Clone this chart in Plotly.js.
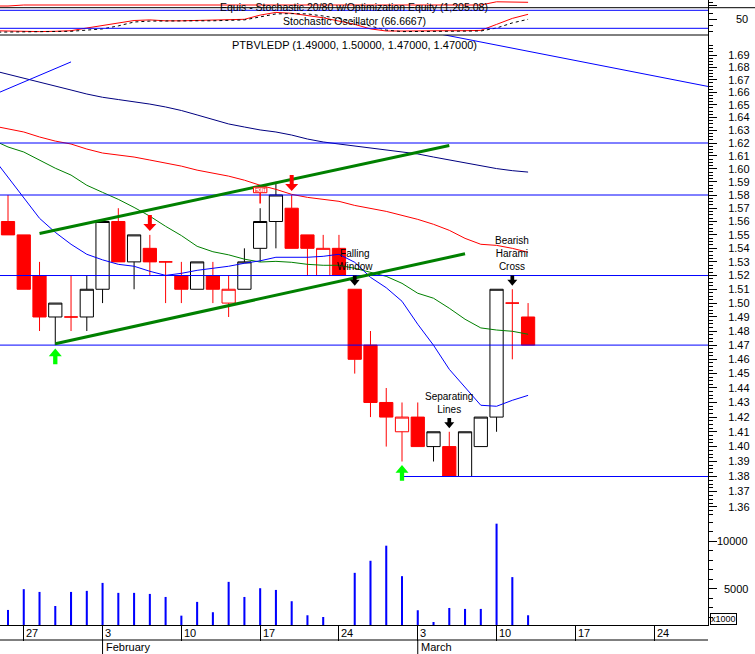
<!DOCTYPE html>
<html>
<head>
<meta charset="utf-8">
<script src="https://cdn.plot.ly/plotly-3.0.1.min.js"></script>
<style>
html,body{margin:0;padding:0;background:#ffffff;}
#chart{width:755px;height:654px;}
</style>
</head>
<body>
<div id="chart"></div>
<script>
// ---------------- data ----------------
const symbol = 'PTBVLEDP';
const dates = ['2003-01-23','2003-01-24','2003-01-27','2003-01-28','2003-01-29','2003-01-30','2003-01-31',
 '2003-02-03','2003-02-04','2003-02-05','2003-02-06','2003-02-07','2003-02-10','2003-02-11','2003-02-12','2003-02-13','2003-02-14',
 '2003-02-17','2003-02-18','2003-02-19','2003-02-20','2003-02-21','2003-02-24','2003-02-25','2003-02-26','2003-02-27','2003-02-28',
 '2003-03-03','2003-03-04','2003-03-05','2003-03-06','2003-03-07','2003-03-10','2003-03-11','2003-03-12'];
const openP  = [null,1.56,1.55,1.52,1.49,1.49,1.49,1.51,1.56,1.53,1.54,1.53,1.52,1.51,1.52,1.50,1.51,1.54,1.56,1.57,1.55,1.52,1.54,1.51,1.47,1.43,1.41,1.42,1.40,1.40,1.38,1.40,1.42,1.50,1.49];
const highP  = [null,1.58,1.55,1.53,1.50,1.52,1.52,1.56,1.57,1.55,1.55,1.53,1.53,1.53,1.53,1.52,1.54,1.57,1.59,1.58,1.55,1.55,1.55,1.51,1.48,1.44,1.43,1.43,1.41,1.41,1.41,1.42,1.51,1.51,1.50];
const lowP   = [null,1.55,1.51,1.48,1.47,1.48,1.48,1.50,1.53,1.51,1.52,1.50,1.50,1.51,1.50,1.49,1.51,1.53,1.54,1.54,1.52,1.52,1.52,1.45,1.42,1.40,1.39,1.40,1.39,1.38,1.38,1.40,1.41,1.46,1.47];
const closeP = [null,1.55,1.51,1.49,1.50,1.49,1.51,1.56,1.53,1.55,1.53,1.53,1.51,1.53,1.51,1.51,1.53,1.56,1.58,1.54,1.54,1.54,1.52,1.46,1.43,1.42,1.42,1.40,1.41,1.38,1.41,1.42,1.51,1.50,1.47];
const volume = [null,2780,4970,4680,3200,4680,4790,5630,4580,4580,4470,4150,2180,3630,2540,5740,4150,5070,4890,3700,2220,2040,0,6690,7960,9550,6340,2750,1510,2990,2890,2890,11870,6240,2220];
const maLong  = [1.6776,1.6743,1.6715,1.6678,1.6650,1.6618,1.6586,1.6560,1.6542,1.6526,1.6506,1.6483,1.6455,1.6420,1.6384,1.6349,1.6325,1.6302,1.6286,1.6262,1.6231,1.6208,1.6192,1.6177,1.6157,1.6142,1.6130,1.6115,1.6091,1.6068,1.6045,1.6021,1.6002,1.5986,1.5975];
const maMid   = [1.6335,1.6309,1.6286,1.6247,1.6215,1.6192,1.6153,1.6122,1.6107,1.6091,1.6068,1.6045,1.6021,1.5990,1.5967,1.5944,1.5913,1.5874,1.5843,1.5805,1.5782,1.5767,1.5752,1.5721,1.5699,1.5676,1.5646,1.5616,1.5579,1.5534,1.5474,1.5430,1.5422,1.5400,1.5371];
const maShort = [1.6225,1.6169,1.6130,1.6068,1.6005,1.5952,1.5874,1.5820,1.5767,1.5706,1.5640,1.5564,1.5495,1.5415,1.5375,1.5352,1.5320,1.5299,1.5304,1.5297,1.5282,1.5275,1.5275,1.5253,1.5224,1.5194,1.5143,1.5071,1.5035,1.4963,1.4884,1.4822,1.4807,1.4798,1.4777];
const maFast  = [1.6094,1.5936,1.5782,1.5624,1.5519,1.5430,1.5356,1.5315,1.5282,1.5268,1.5231,1.5201,1.5216,1.5238,1.5253,1.5268,1.5290,1.5308,1.5334,1.5334,1.5334,1.5341,1.5356,1.5297,1.5187,1.5111,1.5013,1.4848,1.4699,1.4530,1.4405,1.4281,1.4274,1.4315,1.4349];
const stochK  = [12,11,9,9,10,12,21,29,38,46,48,45,45,46,48,48,50,64,73,70,63,55,44,33,18,11,11,12,12,12,12,13,33,53,66.6667];
const stochD  = [7,7.7,7,7,8,10,14,18,28,41,44,45,45,45,45,47,48,58,68,69,68,61,53,41,28,14,9,9,9,9,9,11,21,38,50];
const equity  = [1000,1000,1055,1055,1055,1055,1055,1055,1055,1055,1055,1055,1055,1055,1055,1055,1055,1055,1055,1055,1055,1055,1055,1055,1055,1055,1055,1055,1055,1055,1055,1055,1233,1222,1205.08];

const supportLevels = [1.62, 1.58, 1.52, 1.47];
const levelSpan = ['2003-01-23', '2003-03-28'];
const floorLevel = 1.38;
const floorStart = '2003-02-28';
const upperChannelDates = ['2003-01-28', '2003-03-05'];
const upperChannelPrices = [1.551, 1.618];
const lowerChannelDates = ['2003-01-29', '2003-03-06'];
const lowerChannelPrices = [1.471, 1.536];
const trendADates = ['2003-01-23', '2003-01-30'];
const trendAPrices = [1.6575, 1.6844];
const trendBDates = ['2003-03-04', '2003-03-28'];
const trendBPrices = [1.7082, 1.6632];
const sellDates = ['2003-02-06', '2003-02-19'];
const buyDates = ['2003-01-29', '2003-02-28'];
const exitDates = ['2003-02-17'];
const patternDates = ['2003-02-25', '2003-03-05', '2003-03-11'];
const patternLabels = ['Falling<br>Window', 'Separating<br>Lines', 'Bearish<br>Harami<br>Cross'];
const stochLevels = [20, 80];
const stochTickLabels = ['50'];
const priceTickLabels = ['1.36','1.37','1.38','1.39','1.40','1.41','1.42','1.43','1.44','1.45','1.46','1.47','1.48','1.49','1.50','1.51','1.52','1.53','1.54','1.55','1.56','1.57','1.58','1.59','1.60','1.61','1.62','1.63','1.64','1.65','1.66','1.67','1.68','1.69'];
const volumeTickLabels = ['5000', '10000'];
const volumeScaleLabel = 'x1000';
const weekTickDates = ['2003-01-27','2003-02-03','2003-02-10','2003-02-17','2003-02-24','2003-03-03','2003-03-10','2003-03-17','2003-03-24'];
const monthDates = ['2003-02-03', '2003-03-03'];
const monthLabels = ['February', 'March'];

// ---------------- helpers ----------------
const FONT = 'Liberation Sans, Arial, sans-serif';
const W = 755, H = 654, M = {l: 0, r: 47, t: 0, b: 29};
const plotW = W - M.l - M.r, plotH = H - M.t - M.b;
const pyPaper = y => (plotH - y) / plotH;
const pxPaper = x => x / plotW;
const xRange = [0.4924, 45.416];
const idxPaper = i => (i - xRange[0]) / (xRange[1] - xRange[0]);

function tradingIndex(ds) {
  const k = dates.indexOf(ds);
  if (k >= 0) return k;
  const target = new Date(ds + 'T00:00:00Z');
  const d = new Date(dates[dates.length - 1] + 'T00:00:00Z');
  let idx = dates.length - 1;
  while (d < target) {
    d.setUTCDate(d.getUTCDate() + 1);
    const wd = d.getUTCDay();
    if (wd !== 0 && wd !== 6) idx++;
  }
  return idx;
}
const X = dates.map((d, i) => i);
const last = dates.length - 1;

// ---------------- traces ----------------
const traces = [];
const groups = {
  blackHollow: {line: '#000000', fill: '#ffffff', x: [], o: [], h: [], l: [], c: []},
  blackFilled: {line: '#000000', fill: '#000000', x: [], o: [], h: [], l: [], c: []},
  redHollow:   {line: '#ff0000', fill: '#ffffff', x: [], o: [], h: [], l: [], c: []},
  redFilled:   {line: '#ff0000', fill: '#ff0000', x: [], o: [], h: [], l: [], c: []}
};
let prevClose = null;
for (let i = 0; i < dates.length; i++) {
  if (openP[i] == null) continue;
  const red = prevClose === null || closeP[i] <= prevClose;
  const hollow = closeP[i] >= openP[i];
  const g = groups[(red ? 'red' : 'black') + (hollow ? 'Hollow' : 'Filled')];
  g.x.push(i); g.o.push(openP[i]); g.h.push(highP[i]); g.l.push(lowP[i]); g.c.push(closeP[i]);
  prevClose = closeP[i];
}
Object.values(groups).forEach(g => {
  if (!g.x.length) return;
  traces.push({
    type: 'candlestick', x: g.x, open: g.o, high: g.h, low: g.l, close: g.c,
    xaxis: 'x', yaxis: 'y', whiskerwidth: 0, hoverinfo: 'skip', showlegend: false,
    increasing: {line: {color: g.line, width: 1}, fillcolor: g.fill},
    decreasing: {line: {color: g.line, width: 1}, fillcolor: g.fill}
  });
});

function line(x, y, color, width, axis, dash) {
  return {type: 'scatter', mode: 'lines', x: x, y: y, xaxis: 'x', yaxis: axis || 'y',
    line: {color: color, width: width, dash: dash || 'solid'}, hoverinfo: 'skip', showlegend: false, connectgaps: false};
}
traces.push(line(X, maLong, '#000080', 1));
traces.push(line(X, maMid, '#ff0000', 1));
traces.push(line(X, maShort, '#008000', 1));
traces.push(line(X, maFast, '#0000ff', 1));
const spanIdx = levelSpan.map(tradingIndex);
supportLevels.forEach(v => traces.push(line(spanIdx, [v, v], '#0000ff', 1)));
traces.push(line([tradingIndex(floorStart), spanIdx[1]], [floorLevel, floorLevel], '#0000ff', 1));
traces.push(line(upperChannelDates.map(tradingIndex), upperChannelPrices, '#008000', 3));
traces.push(line(lowerChannelDates.map(tradingIndex), lowerChannelPrices, '#008000', 3));
traces.push(line(trendADates.map(tradingIndex), trendAPrices, '#0000ff', 1));
traces.push(line(trendBDates.map(tradingIndex), trendBPrices, '#0000ff', 1));

traces.push({type: 'bar', x: X, y: volume, xaxis: 'x', yaxis: 'y2', width: 0.13,
  marker: {color: '#0000ff', line: {width: 0}}, hoverinfo: 'skip', showlegend: false});

traces.push(line(X, stochK, '#ff0000', 1, 'y3'));
traces.push(line(X, stochD, '#000000', 1, 'y3', 'dot'));
traces.push(line(X, equity, '#ff0000', 1, 'y4'));

// ---------------- shapes & annotations ----------------
const shapes = [];
const annotations = [];

shapes.push({type: 'line', xref: 'paper', yref: 'paper', x0: 0, x1: 1, y0: pyPaper(35), y1: pyPaper(35), line: {color: '#000', width: 1}});
shapes.push({type: 'line', xref: 'paper', yref: 'paper', x0: 0, x1: W / plotW, y0: pyPaper(7.7), y1: pyPaper(7.7), line: {color: '#000', width: 1}});
shapes.push({type: 'line', xref: 'paper', yref: 'paper', x0: 0, x1: 1, y0: pyPaper(640), y1: pyPaper(640), line: {color: '#000', width: 1}});
monthDates.forEach((d, k) => {
  const px = idxPaper(tradingIndex(d));
  shapes.push({type: 'line', xref: 'paper', yref: 'paper', x0: px, x1: px, y0: pyPaper(640), y1: pyPaper(654), line: {color: '#000', width: 1}});
  annotations.push({xref: 'paper', yref: 'paper', x: px, y: pyPaper(647), xanchor: 'left', yanchor: 'middle', xshift: 1,
    text: monthLabels[k], showarrow: false, font: {family: FONT, size: 11, color: '#000'}});
});
weekTickDates.forEach(d => {
  annotations.push({xref: 'x', yref: 'paper', x: tradingIndex(d), y: pyPaper(633), xanchor: 'left', yanchor: 'middle', xshift: 0.5,
    text: String(Number(d.slice(8))), showarrow: false, font: {family: FONT, size: 11, color: '#000'}});
});
stochLevels.forEach(v => shapes.push({type: 'line', xref: 'paper', yref: 'y3', x0: 0, x1: 1, y0: v, y1: v, line: {color: '#0000ff', width: 1}}));

function arrowPath(dir, gap, headH, headW, shaftH, shaftW) {
  const s = dir;
  const a = s * gap, b = s * (gap + headH), c = s * (gap + headH + shaftH), hw = headW / 2, sw = shaftW / 2;
  return `M0,${a}L${-hw},${b}L${-sw},${b}L${-sw},${c}L${sw},${c}L${sw},${b}L${hw},${b}Z`;
}
function pixelShape(idx, price, path, fill) {
  return {type: 'path', xref: 'x', yref: 'y', xsizemode: 'pixel', ysizemode: 'pixel',
    xanchor: idx, yanchor: price, path: path, fillcolor: fill, line: {width: 0}};
}
sellDates.forEach(d => { const i = tradingIndex(d); shapes.push(pixelShape(i, highP[i], arrowPath(1, 4, 7, 13, 9, 4), '#ff0000')); });
buyDates.forEach(d => { const i = tradingIndex(d); shapes.push(pixelShape(i, lowP[i], arrowPath(-1, 3.5, 7.7, 13, 8, 4.3), '#00ff00')); });
patternDates.forEach((d, k) => {
  const i = tradingIndex(d);
  shapes.push(pixelShape(i, highP[i], arrowPath(1, 3.5, 6, 10, 4.3, 3.7), '#000000'));
  annotations.push({xref: 'x', yref: 'y', x: i, y: Math.log10(highP[i]), xanchor: 'center', yanchor: 'bottom', yshift: 15,
    text: patternLabels[k], showarrow: false, font: {family: FONT, size: 10, color: '#000'}});
});
exitDates.forEach(d => {
  const i = tradingIndex(d);
  shapes.push({type: 'path', xref: 'x', yref: 'y', xsizemode: 'pixel', ysizemode: 'pixel', xanchor: i, yanchor: highP[i],
    path: 'M0,4.8L0,15.5', line: {color: '#ff0000', width: 1.5}});
  shapes.push({type: 'path', xref: 'x', yref: 'y', xsizemode: 'pixel', ysizemode: 'pixel', xanchor: i, yanchor: highP[i],
    path: 'M-6.7,15.5L6.7,15.5L6.7,21L-6.7,21Z', fillcolor: '#ffffff', line: {color: '#ff0000', width: 1}});
  annotations.push({xref: 'x', yref: 'y', x: i, y: Math.log10(highP[i]), xanchor: 'center', yanchor: 'middle', yshift: 18.3,
    text: 'EXIT', showarrow: false, font: {family: FONT, size: 5, color: '#ff0000'}});
});

// titles (kept slightly apart so they do not collide)
const fmt5 = v => v.toFixed(5);
annotations.push({xref: 'paper', yref: 'paper', x: 0.5, y: pyPaper(45), xanchor: 'center', yanchor: 'middle', showarrow: false,
  text: `${symbol} (${fmt5(openP[last])}, ${fmt5(highP[last])}, ${fmt5(lowP[last])}, ${fmt5(closeP[last])})`,
  font: {family: FONT, size: 11, color: '#000'}});
annotations.push({xref: 'paper', yref: 'paper', x: 0.5, y: 1, xanchor: 'center', yanchor: 'top', showarrow: false, borderpad: 0,
  text: `Equis - Stochastic 20/80 w/Optimization Equity (${equity[last].toLocaleString('en-US', {minimumFractionDigits: 2, maximumFractionDigits: 2})})`,
  font: {family: FONT, size: 10.5, color: '#000'}});
annotations.push({xref: 'paper', yref: 'paper', x: 0.5, y: pyPaper(28), xanchor: 'center', yanchor: 'bottom', showarrow: false, borderpad: 0,
  text: `Stochastic Oscillator (${stochK[last].toFixed(4)})`, font: {family: FONT, size: 10.5, color: '#000'}});

const rightEdge = 750 / plotW;
stochTickLabels.forEach(t => annotations.push({xref: 'paper', yref: 'y3', x: rightEdge, y: Number(t), xanchor: 'right', yanchor: 'middle',
  text: t, showarrow: false, font: {family: FONT, size: 11, color: '#000'}}));
volumeTickLabels.forEach(t => annotations.push({xref: 'paper', yref: 'y2', x: rightEdge, y: Number(t), xanchor: 'right', yanchor: 'middle',
  text: t, showarrow: false, font: {family: FONT, size: 11, color: '#000'}}));
annotations.push({xref: 'paper', yref: 'paper', x: pxPaper(723.5), y: pyPaper(619), xanchor: 'center', yanchor: 'middle',
  text: volumeScaleLabel, showarrow: false, bordercolor: '#000', borderwidth: 1, borderpad: 0, font: {family: FONT, size: 9, color: '#000'}});

const priceTickVals = priceTickLabels.map(Number);
const priceMinor = [];
for (let v = 1355; v <= 1700; v += 2.5) { if (v % 10 !== 0) priceMinor.push(v / 1000); }
const volMinor = [2000, 3000, 4000, 6000, 7000, 8000, 9000, 11000, 12000];

const baseAxis = {showgrid: false, zeroline: false, fixedrange: true, linecolor: '#000', linewidth: 1, tickcolor: '#000', tickwidth: 1};

const layout = {
  width: W, height: H,
  margin: {l: M.l, r: M.r, t: M.t, b: M.b, pad: 0},
  paper_bgcolor: '#ffffff', plot_bgcolor: '#ffffff',
  showlegend: false,
  font: {family: FONT, size: 11, color: '#000'},
  boxgap: 0.16, boxgroupgap: 0, boxmode: 'overlay',
  xaxis: Object.assign({}, baseAxis, {range: xRange, showline: true, ticks: 'outside', ticklen: 15,
    tickmode: 'array', tickvals: weekTickDates.map(tradingIndex), showticklabels: false, rangeslider: {visible: false}}),
  yaxis: Object.assign({}, baseAxis, {type: 'log', domain: [0, pyPaper(35)], range: [0.108876, 0.232065], side: 'right', anchor: 'x',
    showline: true, ticks: 'outside', ticklen: 8, tickmode: 'array', tickvals: priceTickVals, ticktext: priceTickLabels,
    ticklabelstandoff: 9, tickfont: {family: FONT, size: 11, color: '#000'},
    minor: {tickmode: 'array', tickvals: priceMinor, ticks: 'outside', ticklen: 4, tickcolor: '#000', showgrid: false}}),
  yaxis2: Object.assign({}, baseAxis, {overlaying: 'y', side: 'right', anchor: 'x', range: [1195, 63350], showline: false,
    ticks: 'outside', ticklen: 8, tickmode: 'array', tickvals: volumeTickLabels.map(Number), showticklabels: false,
    minor: {tickmode: 'array', tickvals: volMinor, ticks: 'outside', ticklen: 4, tickcolor: '#000', showgrid: false}}),
  yaxis3: Object.assign({}, baseAxis, {domain: [pyPaper(35), pyPaper(7.7)], range: [-2.33, 88.67], side: 'right', anchor: 'x',
    showline: true, ticks: 'outside', ticklen: 8, tickmode: 'array', tickvals: stochTickLabels.map(Number), showticklabels: false,
    minor: {tickmode: 'array', tickvals: [10, 30, 70], ticks: 'outside', ticklen: 4, tickcolor: '#000', showgrid: false}}),
  yaxis4: Object.assign({}, baseAxis, {domain: [pyPaper(7.7), 1], range: [905.8, 1332.4], side: 'right', anchor: 'x',
    showline: true, ticks: 'outside', ticklen: 8, tickmode: 'array', tickvals: [1055], showticklabels: false,
    minor: {tickmode: 'array', tickvals: [1183], ticks: 'outside', ticklen: 4, tickcolor: '#000', showgrid: false}}),
  shapes: shapes,
  annotations: annotations
};

Plotly.newPlot('chart', traces, layout, {staticPlot: true, displayModeBar: false});
</script>
</body>
</html>
